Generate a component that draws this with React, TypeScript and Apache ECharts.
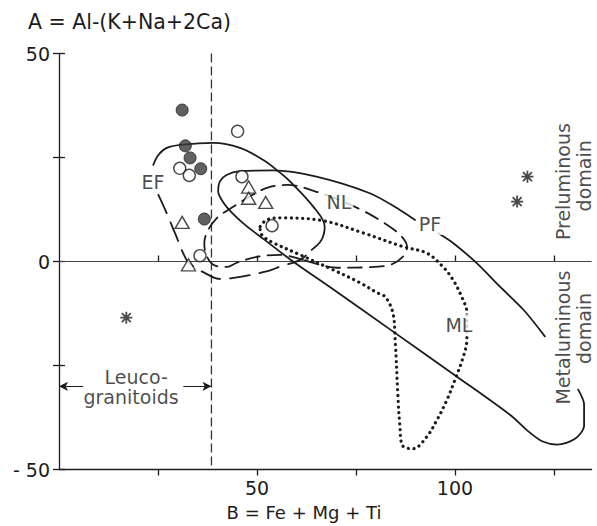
import React, { useEffect, useRef } from 'react';
import * as echarts from 'echarts';

const INK = '#1c1c1c';
const FONT = "'DejaVu Sans', sans-serif";

// axis ticks and labels
const xTickValues = [25, 50, 75, 100, 125];
const xTickLabels = [50, 100];
const yTickValues = [-50, -25, 0, 25, 50];
const yTickLabels = [-50, 0, 50];

// samples: [B, A]
const filledCircles = [[31.1, 36.4], [31.9, 27.8], [33.1, 24.9], [35.8, 22.3], [36.7, 10.2]];
const openCircles = [[45.1, 31.3], [30.5, 22.4], [32.9, 20.7], [46.2, 20.4], [53.8, 8.6], [35.6, 1.4]];
const triangles = [[31.1, 9.4], [32.7, -0.8], [47.9, 17.9], [47.9, 15.2], [52.2, 14.2]];
const asterisks = [[17.0, -13.5], [115.7, 14.4], [118.3, 20.4]];

// leucogranitoid limit
const leucoLimit = 38.5;
const leucoArrowY = -30;
const leucoArrowLeftEnd = 6.1;
const leucoArrowRightStart = 31.4;

// contours
const efSolid = [[23.8, 23.2], [25.1, 25.6], [27.2, 27.3], [31.4, 28.1], [39.0, 28.5], [45.7, 27.3], [51.6, 24.4], [55.9, 21.3], [58.4, 19.2], [64.2, 13.2], [67.1, 8.4], [66.3, 5.2], [63.8, 2.8]];
const efDashed = [[25.1, 16.0], [27.2, 11.6], [29.3, 6.8], [32.2, 0.4], [34.0, -1.2], [37.1, -2.9], [40.6, -4.2], [43.7, -4.0], [52.4, -2.4], [55.9, -1.2], [60.9, 0.4], [63.8, 2.8]];
const nlContour = [[61.6, 0.4], [55.9, 1.6], [50.0, 1.1], [44.9, -0.3], [42.4, -1.3], [39.4, -1.0], [37.4, 1.1], [36.7, 4.3], [37.4, 7.1], [39.9, 10.5], [42.7, 12.4], [48.2, 15.6], [52.5, 17.7], [57.5, 18.4], [65.9, 16.5], [75.3, 12.9], [82.9, 8.8], [86.6, 5.9], [87.9, 3.5], [86.8, 1.1], [83.6, -0.8], [77.8, -1.4], [70.3, -1.5], [65.9, -0.8], [61.6, 0.4]];
const pfMain = [[89.9, 10.0], [86.1, 12.4], [78.5, 16.4], [65.0, 20.4], [54.1, 21.9], [45.7, 21.7], [42.3, 20.8], [40.6, 19.2], [40.2, 16.8], [41.5, 14.2], [43.7, 11.7], [47.0, 8.8], [51.5, 5.5], [59.1, 0.0], [68.5, -6.2], [84.3, -16.8], [100.5, -27.7], [113.8, -36.8], [118.6, -40.9], [122.0, -43.2], [125.8, -44.0], [130.3, -42.6], [132.6, -39.5], [132.6, -34.4], [131.1, -30.8]];
const pfEnd = [[95.8, 6.8], [99.6, 4.4], [105.5, -0.4], [111.3, -6.0], [117.3, -11.6], [122.7, -18.0]];
const mlContour = [[50.8, 8.4], [52.4, 10.0], [55.9, 10.5], [66.7, 9.8], [76.7, 6.9], [86.8, 3.6], [92.9, 2.0], [96.9, -1.2], [99.5, -4.4], [101.7, -8.5], [103.0, -12.3], [103.0, -18.8], [102.1, -22.9], [100.0, -28.4], [98.0, -33.2], [95.5, -38.0], [92.9, -42.1], [89.4, -45.0], [86.8, -44.3], [86.1, -39.7], [85.6, -32.5], [84.9, -18.8], [84.3, -12.3], [82.4, -8.5], [80.3, -7.5], [76.0, -5.1], [69.2, -2.0], [60.9, 1.6], [54.1, 4.5], [52.0, 5.7], [50.8, 7.2], [50.8, 8.4]];

// annotation labels: [B, A, text, rotation, whiteBackground]
const annotations: [number, number, string, number, boolean][] = [
  [23.7, 19.0, 'EF', 0, false],
  [70.7, 14.2, 'NL', 0, true],
  [93.7, 8.9, 'PF', 0, true],
  [101.0, -15.2, 'ML', 0, true],
  [19.5, -27.7, 'Leuco-', 0, false],
  [18.2, -32.5, 'granitoids', 0, false],
  [127.2, 19.2, 'Preluminous', 90, false],
  [132.7, 20.6, 'domain', 90, false],
  [127.4, -18.3, 'Metaluminous', 90, false],
  [132.7, -16.1, 'domain', 90, false],
];

const yTitle = 'A = Al-(K+Na+2Ca)';
const xTitle = 'B = Fe + Mg + Ti';

const ASTERISK = 'path://M0 8.5H20V11.5H0Z M8.5 0H11.5V20H8.5Z M1.5 3.6L3.6 1.5L18.5 16.4L16.4 18.5Z M16.4 1.5L18.5 3.6L3.6 18.5L1.5 16.4Z';

const curve = (data: number[][], type: any, width: number, smooth = 0.35) => ({
  type: 'line',
  data,
  smooth,
  symbol: 'none',
  silent: true,
  z: 2,
  lineStyle: { color: INK, width, type, cap: 'round', join: 'round' },
});

export default function App() {
  const ref = useRef<HTMLDivElement>(null);
  useEffect(() => {
    document.body.style.margin = '0';
    const chart = echarts.init(ref.current!, null, { renderer: 'svg' });
    const axisCommon = { type: 'value', splitLine: { show: false } };
    const xMax = 134.5;
    const option: any = {
      animation: false,
      backgroundColor: '#ffffff',
      grid: { left: 59, right: 5.4, top: 53.5, bottom: 56.5, containLabel: false },
      xAxis: [
        {
          ...axisCommon, min: 0, max: xMax, position: 'bottom',
          axisLine: { show: true, onZero: false, lineStyle: { color: INK, width: 1.3 } },
          axisTick: { show: true, inside: false, length: 6, customValues: xTickValues, lineStyle: { color: INK, width: 1.3 } },
          axisLabel: { show: true, margin: 9, fontSize: 19, fontFamily: FONT, color: INK, customValues: xTickLabels, formatter: (v: number) => String(v) },
        },
        {
          ...axisCommon, min: 0, max: xMax, position: 'bottom',
          axisLine: { show: false },
          axisTick: { show: true, inside: true, length: 6, customValues: xTickValues, lineStyle: { color: INK, width: 1.3 } },
          axisLabel: { show: false },
        },
      ],
      yAxis: [
        {
          ...axisCommon, min: -50, max: 50, position: 'left',
          axisLine: { show: true, onZero: false, lineStyle: { color: INK, width: 1.3 } },
          axisTick: { show: true, inside: false, length: 6, customValues: yTickValues, lineStyle: { color: INK, width: 1.3 } },
          axisLabel: { show: true, margin: 9, fontSize: 19, fontFamily: FONT, color: INK, customValues: yTickLabels, formatter: (v: number) => (v < 0 ? '- ' + Math.abs(v) : String(v)) },
        },
        {
          ...axisCommon, min: -50, max: 50, position: 'left',
          axisLine: { show: false },
          axisTick: { show: true, inside: true, length: 6, customValues: yTickValues, lineStyle: { color: INK, width: 1.3 } },
          axisLabel: { show: false },
        },
      ],
      graphic: [
        { type: 'text', x: 28, y: 22, style: { text: yTitle, fontSize: 20.5, fontFamily: FONT, fill: INK, verticalAlign: 'middle', align: 'left' } },
        { type: 'text', x: 304, y: 512, style: { text: xTitle, fontSize: 18, fontFamily: FONT, fill: INK, verticalAlign: 'middle', align: 'center' } },
      ],
      series: [
        { type: 'line', data: [[0, 0], [xMax, 0]], symbol: 'none', silent: true, z: 1, lineStyle: { color: '#444', width: 1 } },
        { type: 'line', data: [[leucoLimit, 50], [leucoLimit, -50]], symbol: 'none', silent: true, z: 1, lineStyle: { color: '#333', width: 1.3, type: [9, 4] } },
        {
          type: 'scatter', data: [], silent: true,
          markLine: {
            silent: true, symbol: ['none', 'arrow'], symbolSize: [7, 9], label: { show: false },
            lineStyle: { color: INK, width: 1, type: 'solid' },
            data: [
              [{ coord: [leucoArrowLeftEnd, leucoArrowY] }, { coord: [0, leucoArrowY] }],
              [{ coord: [leucoArrowRightStart, leucoArrowY] }, { coord: [leucoLimit, leucoArrowY] }],
            ],
          },
        },
        curve(efSolid, 'solid', 1.8),
        curve(efDashed, [20, 10], 1.8),
        curve(nlContour, [14, 8], 1.8),
        curve(pfMain, 'solid', 1.8, 0.3),
        curve(pfEnd, 'solid', 1.8, 0.3),
        curve(mlContour, [0.1, 5.6], 3.2),
        { type: 'scatter', data: filledCircles, symbol: 'circle', symbolSize: 12, z: 5, itemStyle: { color: '#3a3a3a', borderColor: INK, borderWidth: 1 } },
        { type: 'scatter', data: openCircles, symbol: 'circle', symbolSize: 12, z: 5, itemStyle: { color: '#ffffff', borderColor: INK, borderWidth: 1.4 } },
        { type: 'scatter', data: triangles, symbol: 'triangle', symbolSize: [14, 12], z: 5, itemStyle: { color: '#ffffff', borderColor: INK, borderWidth: 1.4 } },
        { type: 'scatter', data: asterisks, symbol: ASTERISK, symbolSize: 12, z: 5, itemStyle: { color: INK } },
        {
          type: 'scatter', symbolSize: 1, z: 6, silent: true, itemStyle: { color: 'transparent' },
          data: annotations.map(([x, y, text, rot, bg]) => ({
            value: [x, y], name: text,
            label: {
              show: true, position: 'inside', formatter: text, rotate: rot,
              fontSize: 19, fontFamily: FONT, color: INK, align: 'center', verticalAlign: 'middle',
              backgroundColor: bg ? '#ffffff' : 'transparent', padding: bg ? [1, 2] : 0,
            },
          })),
        },
      ],
    };
    chart.setOption(option);
    return () => chart.dispose();
  }, []);
  return <div ref={ref} style={{ width: 597, height: 526 }} />;
}
